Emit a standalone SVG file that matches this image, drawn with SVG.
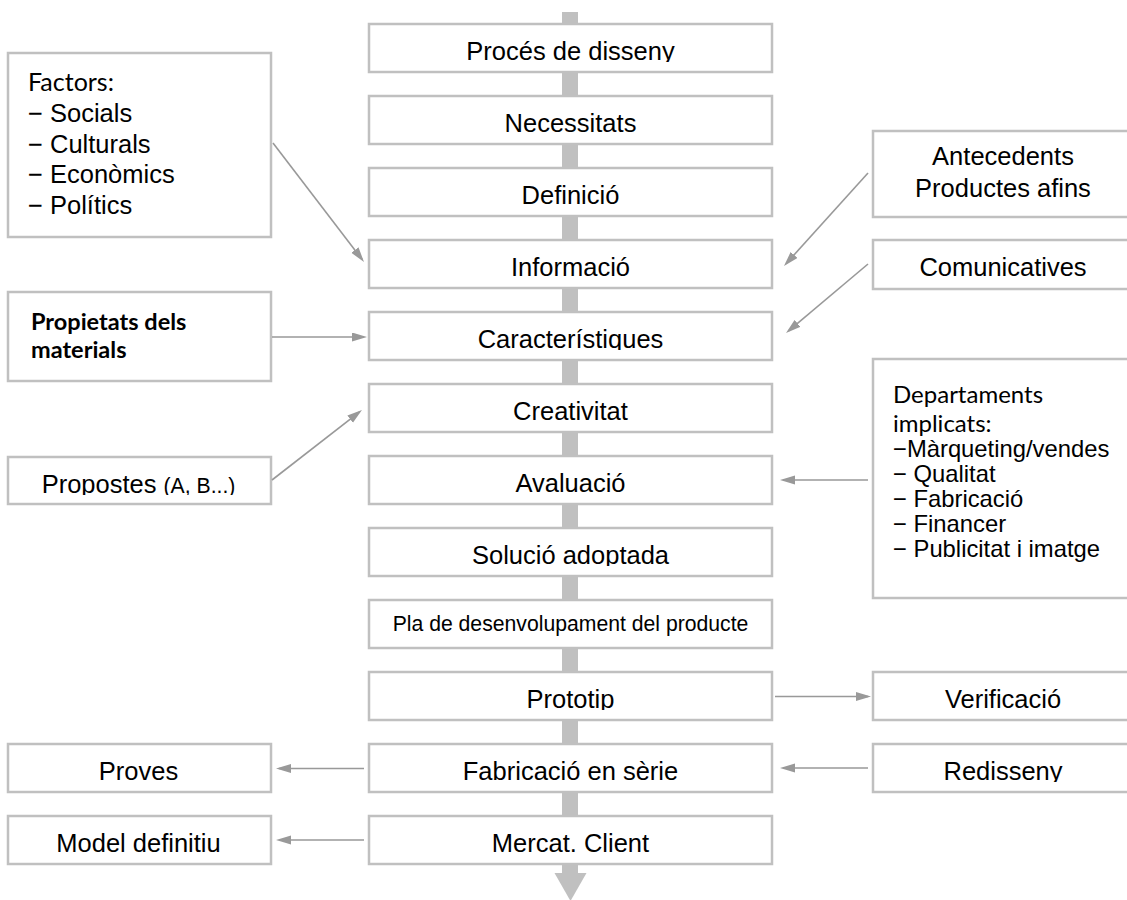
<svg xmlns="http://www.w3.org/2000/svg" width="1127" height="900" viewBox="0 0 1127 900">
  <style>
    .box { fill: #ffffff; stroke: #c0c0c0; stroke-width: 2.5; }
    .lbl { font-family: "Liberation Sans", Arial, sans-serif; font-size: 25.5px; fill: #000; }
    .mid { text-anchor: middle; }
    .gill { font-family: Lato, "Gill Sans", sans-serif; fill: #000; }
    .small { font-size: 23.8px; }
    .conn { stroke: #999999; stroke-width: 1.6; fill: none; marker-end: url(#head); }
  </style>
  <defs>
    <marker id="head" markerUnits="userSpaceOnUse" markerWidth="16" markerHeight="10" refX="12" refY="4.5" orient="auto">
      <path d="M0,0 L15,4.5 L0,9 z" fill="#999999"/>
    </marker>
    <!-- single-line labels are cut just under the baseline -->
    <clipPath id="clip-proces"><rect x="369" y="24" width="403" height="38"/></clipPath>
    <clipPath id="clip-caract"><rect x="369" y="312" width="403" height="38"/></clipPath>
    <clipPath id="clip-solucio"><rect x="369" y="528" width="403" height="38"/></clipPath>
    <clipPath id="clip-prototip"><rect x="369" y="672" width="403" height="38"/></clipPath>
    <clipPath id="clip-redisseny"><rect x="873" y="744" width="254" height="38"/></clipPath>
    <clipPath id="clip-propostes"><rect x="8" y="457" width="263" height="38"/></clipPath>
  </defs>

  <!-- main flow spine -->
  <g id="spine">
    <rect x="562" y="12" width="16" height="862" fill="#c0c0c0"/>
    <polygon points="554.5,873 586.5,873 570.5,901" fill="#c0c0c0"/>
  </g>

  <!-- central process steps -->
  <g id="n-proces"><rect class="box" x="369" y="24" width="403" height="48"/><text class="lbl mid" x="570.5" y="59.5" clip-path="url(#clip-proces)">Procés de disseny</text></g>
  <g id="n-necessitats"><rect class="box" x="369" y="96" width="403" height="48"/><text class="lbl mid" x="570.5" y="131.5">Necessitats</text></g>
  <g id="n-definicio"><rect class="box" x="369" y="168" width="403" height="48"/><text class="lbl mid" x="570.5" y="203.5">Definició</text></g>
  <g id="n-informacio"><rect class="box" x="369" y="240" width="403" height="48"/><text class="lbl mid" x="570.5" y="275.5">Informació</text></g>
  <g id="n-caracteristiques"><rect class="box" x="369" y="312" width="403" height="48"/><text class="lbl mid" x="570.5" y="347.5" clip-path="url(#clip-caract)">Característiques</text></g>
  <g id="n-creativitat"><rect class="box" x="369" y="384" width="403" height="48"/><text class="lbl mid" x="570.5" y="419.5">Creativitat</text></g>
  <g id="n-avaluacio"><rect class="box" x="369" y="456" width="403" height="48"/><text class="lbl mid" x="570.5" y="491.5">Avaluació</text></g>
  <g id="n-solucio"><rect class="box" x="369" y="528" width="403" height="48"/><text class="lbl mid" x="570.5" y="563.5" clip-path="url(#clip-solucio)">Solució adoptada</text></g>
  <g id="n-pla"><rect class="box" x="369" y="600" width="403" height="48"/><text class="lbl mid" x="570.5" y="631" style="font-size:21.2px">Pla de desenvolupament del producte</text></g>
  <g id="n-prototip"><rect class="box" x="369" y="672" width="403" height="48"/><text class="lbl mid" x="570.5" y="707.5" clip-path="url(#clip-prototip)">Prototip</text></g>
  <g id="n-fabricacio"><rect class="box" x="369" y="744" width="403" height="48"/><text class="lbl mid" x="570.5" y="779.5">Fabricació en sèrie</text></g>
  <g id="n-mercat"><rect class="box" x="369" y="816" width="403" height="48"/><text class="lbl mid" x="570.5" y="851.5">Mercat. Client</text></g>

  <!-- left-hand inputs and outputs -->
  <g id="n-factors">
    <rect class="box" x="8" y="53" width="263" height="184"/>
    <text class="gill" x="28" y="91" style="font-size:25px">Factors:</text>
    <text class="lbl" x="28" y="122">− Socials</text>
    <text class="lbl" x="28" y="152.5">− Culturals</text>
    <text class="lbl" x="28" y="183">− Econòmics</text>
    <text class="lbl" x="28" y="213.5">− Polítics</text>
  </g>
  <g id="n-propietats">
    <rect class="box" x="8" y="292" width="263" height="89"/>
    <text class="gill" x="31" y="330" style="font-size:23.5px;font-weight:bold">Propietats dels</text>
    <text class="gill" x="31" y="358" style="font-size:23.5px;font-weight:bold">materials</text>
  </g>
  <g id="n-propostes">
    <rect class="box" x="8" y="457" width="263" height="47"/>
    <text class="lbl mid" x="138.5" y="493" clip-path="url(#clip-propostes)">Propostes <tspan style="font-size:21.2px">(A, B...)</tspan></text>
  </g>
  <g id="n-proves"><rect class="box" x="8" y="744" width="263" height="48"/><text class="lbl mid" x="138.5" y="779.5">Proves</text></g>
  <g id="n-model"><rect class="box" x="8" y="816" width="263" height="48"/><text class="lbl mid" x="138.5" y="851.5">Model definitiu</text></g>

  <!-- right-hand inputs and outputs -->
  <g id="n-antecedents">
    <rect class="box" x="873" y="131" width="256" height="86"/>
    <text class="lbl mid" x="1003" y="165">Antecedents</text>
    <text class="lbl mid" x="1003" y="196.5">Productes afins</text>
  </g>
  <g id="n-comunicatives"><rect class="box" x="873" y="240" width="256" height="49"/><text class="lbl mid" x="1003" y="275.5">Comunicatives</text></g>
  <g id="n-departaments">
    <rect class="box" x="873" y="359" width="256" height="239"/>
    <text class="gill" x="893" y="403" style="font-size:24px">Departaments</text>
    <text class="gill" x="893" y="432" style="font-size:24px">implicats:</text>
    <text class="lbl small" x="893" y="456.5">−Màrqueting/vendes</text>
    <text class="lbl small" x="893" y="481.5">− Qualitat</text>
    <text class="lbl small" x="893" y="506.5">− Fabricació</text>
    <text class="lbl small" x="893" y="531.5">− Financer</text>
    <text class="lbl small" x="893" y="556.5">− Publicitat i imatge</text>
  </g>
  <g id="n-verificacio"><rect class="box" x="873" y="672" width="256" height="48"/><text class="lbl mid" x="1003" y="707.5">Verificació</text></g>
  <g id="n-redisseny"><rect class="box" x="873" y="744" width="256" height="48"/><text class="lbl mid" x="1003" y="779.5" clip-path="url(#clip-redisseny)">Redisseny</text></g>

  <!-- connectors -->
  <g id="connectors">
    <line class="conn" x1="273" y1="143" x2="362.2" y2="259.6"/>
    <line class="conn" x1="868" y1="173" x2="786" y2="263.8"/>
    <line class="conn" x1="868" y1="264" x2="788.3" y2="331.1"/>
    <line class="conn" x1="272" y1="337" x2="364" y2="337"/>
    <line class="conn" x1="272" y1="480" x2="359.6" y2="411.8"/>
    <line class="conn" x1="868" y1="480" x2="783" y2="480"/>
    <line class="conn" x1="775" y1="696.5" x2="868" y2="696.5"/>
    <line class="conn" x1="868" y1="768" x2="783" y2="768"/>
    <line class="conn" x1="364" y1="768.5" x2="279" y2="768.5"/>
    <line class="conn" x1="364" y1="840" x2="279" y2="840"/>
  </g>
</svg>
